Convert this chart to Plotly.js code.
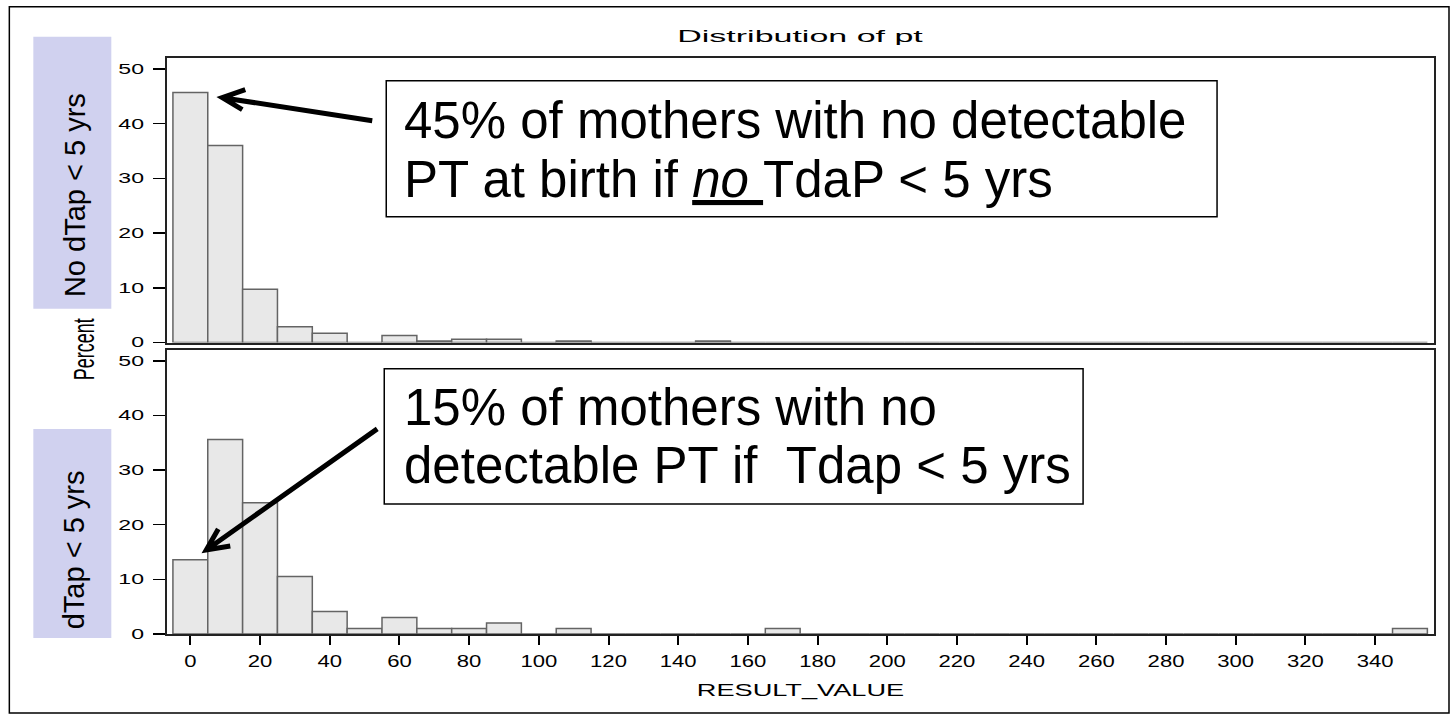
<!DOCTYPE html>
<html><head><meta charset="utf-8">
<script src="https://cdn.plot.ly/plotly-3.0.1.min.js"></script>
<style>body{margin:0;background:#fff}</style>
</head><body>
<div id="chart" style="width:1451px;height:717px"></div>
<script>
// ---- data (bin centers, bin width 10) ----
const binCenters = [0,10,20,30,40,50,60,70,80,90,100,110,120,130,140,150,160,170,180,190,200,210,220,230,240,250,260,270,280,290,300,310,320,330,340,350];
const noTdapPercent = [45.7,36.0,9.75,2.9,1.7,0,1.3,0.3,0.6,0.6,0,0.3,0,0,0,0.3,0,0,0,0,0,0,0,0,0,0,0,0,0,0,0,0,0,0,0,0];
const tdapPercent   = [13.6,35.6,24.0,10.5,4.1,1.0,3.0,1.0,1.0,2.0,0,1.0,0,0,0,0,0,1.0,0,0,0,0,0,0,0,0,0,0,0,0,0,0,0,0,0,1.0];
const xTickVals = [0,20,40,60,80,100,120,140,160,180,200,220,240,260,280,300,320,340];
const yTickVals = [0,10,20,30,40,50];
const chartTitle = 'Distribution of pt';
const xTitle = 'RESULT_VALUE';
const yTitle = 'Percent';
const topLabel = 'No dTap < 5 yrs';
const bottomLabel = 'dTap < 5 yrs';
const topNoteLines = ['45% of mothers with no detectable', 'PT at birth if <i><u>no\u00a0</u></i>TdaP < 5 yrs'];
const bottomNoteLines = ['15% of mothers with no', 'detectable PT if \u00a0Tdap < 5 yrs'];

// ---- geometry (pixels) ----
const W = 1451, H = 717, L = 166.7, R = 1434, T = 58.3, B = 634;
const px = x => (x - L) / (R - L);
const py = y => (B - y) / (B - T);

const barStyle = {color: 'rgb(232,232,232)', line: {color: 'rgb(100,100,100)', width: 1.5}};
const traces = [
  {type: 'bar', x: binCenters, y: noTdapPercent, width: 10, xaxis: 'x2', yaxis: 'y2', marker: barStyle, hoverinfo: 'x+y'},
  {type: 'bar', x: binCenters, y: tdapPercent, width: 10, xaxis: 'x', yaxis: 'y', marker: barStyle, hoverinfo: 'x+y'}
];

const tickFontY = {family: 'Liberation Sans, Arial, sans-serif', size: 14, color: '#000'};
const tickFontX = {family: 'Liberation Sans, Arial, sans-serif', size: 17, color: '#000'};
const frame = {showline: true, linecolor: '#222', linewidth: 2, mirror: true, showgrid: false, zeroline: false};
const xr = [-6.7, 356.9];
const yr = [0, 52];
const topDomainStart = (B - 342.7) / (B - T);
const botDomainEnd = (B - 350) / (B - T);

const noteFont = {family: 'Liberation Sans, Arial, sans-serif', size: 51, color: '#000'};
const labelFont = {family: 'Liberation Sans, Arial, sans-serif', size: 29, color: '#000'};

const annotations = [];
function noteLine(text, xPix, yPix) {
  annotations.push({text: text, xref: 'paper', yref: 'paper', x: px(xPix), y: py(yPix), xanchor: 'left', yanchor: 'middle', showarrow: false, font: noteFont});
}
noteLine(topNoteLines[0], 402, 121);
noteLine(topNoteLines[1], 402, 180);
noteLine(bottomNoteLines[0], 402, 408);
noteLine(bottomNoteLines[1], 402, 466);
annotations.push({text: topLabel, xref: 'paper', yref: 'paper', x: px(74), y: py(195), textangle: -90, xanchor: 'center', yanchor: 'middle', showarrow: false, font: labelFont});
annotations.push({text: bottomLabel, xref: 'paper', yref: 'paper', x: px(74), y: py(550), textangle: -90, xanchor: 'center', yanchor: 'middle', showarrow: false, font: labelFont});
annotations.push({text: yTitle, xref: 'paper', yref: 'paper', x: px(84), y: py(349), textangle: -90, xanchor: 'center', yanchor: 'middle', showarrow: false, font: {family: 'Liberation Sans, Arial, sans-serif', size: 18, color: '#000'}});

function rectPix(x0, y0, x1, y1, fill, line) {
  return {type: 'rect', xref: 'paper', yref: 'paper', x0: px(x0), x1: px(x1), y0: py(y1), y1: py(y0), fillcolor: fill, line: line, layer: 'above'};
}
function arrowPath(tail, tip, arm1, arm2) {
  const p = a => px(a[0]) + ',' + py(a[1]);
  return {type: 'path', xref: 'paper', yref: 'paper', path: 'M' + p(tail) + ' L' + p(tip) + ' M' + p(arm1) + ' L' + p(tip) + ' L' + p(arm2), line: {color: '#000', width: 5}, layer: 'above'};
}
const shapes = [
  rectPix(9, 7, 1449, 713, 'rgba(0,0,0,0)', {color: '#000', width: 1.5}),
  rectPix(33, 37, 111, 309, 'rgb(208,209,239)', {width: 0}),
  rectPix(33, 429, 111, 638, 'rgb(208,209,239)', {width: 0}),
  rectPix(386, 81, 1217, 217, '#fff', {color: '#000', width: 1.5}),
  rectPix(384, 369, 1083, 504, '#fff', {color: '#000', width: 1.5}),
  arrowPath([372, 121], [222, 98], [245, 90], [242, 110]),
  arrowPath([377, 429], [206, 550], [218, 529], [230, 546])
];

const layout = {
  width: W, height: H,
  margin: {l: L, r: W - R, t: T, b: H - B, pad: 0},
  paper_bgcolor: '#fff', plot_bgcolor: '#fff',
  showlegend: false, bargap: 0,
  title: {text: chartTitle, x: px(800), xref: 'paper', xanchor: 'center', y: 1 - 36 / H, yref: 'container', yanchor: 'middle', font: {family: 'Liberation Sans, Arial, sans-serif', size: 17, color: '#000'}},
  xaxis: Object.assign({anchor: 'y', domain: [0, 1], range: xr, tickvals: xTickVals, ticks: 'outside', ticklen: 9, tickwidth: 2, tickcolor: '#000', tickfont: tickFontX, ticklabelstandoff: 2,
    title: {text: xTitle, font: {family: 'Liberation Sans, Arial, sans-serif', size: 16, color: '#000'}, standoff: 14}}, frame),
  xaxis2: Object.assign({anchor: 'y2', domain: [0, 1], range: xr, showticklabels: false, ticks: ''}, frame),
  yaxis: Object.assign({anchor: 'x', domain: [0, botDomainEnd], range: yr, tickvals: yTickVals, ticks: 'outside', ticklen: 12, tickwidth: 1.5, tickcolor: '#000', tickfont: tickFontY, ticklabelstandoff: 6}, frame),
  yaxis2: Object.assign({anchor: 'x2', domain: [topDomainStart, 1], range: yr, tickvals: yTickVals, ticks: 'outside', ticklen: 12, tickwidth: 1.5, tickcolor: '#000', tickfont: tickFontY, ticklabelstandoff: 6}, frame),
  annotations: annotations,
  shapes: shapes
};

// The source chart was stretched horizontally; widen its own texts to match.
function stretchScreenX(el, s, anchor) {
  const svg = el.ownerSVGElement;
  const bb = el.getBoundingClientRect();
  const ax = anchor === 'start' ? bb.left : anchor === 'end' ? bb.right : (bb.left + bb.right) / 2;
  const P = el.parentNode.getScreenCTM();
  const M = svg.createSVGMatrix().translate(ax, 0).scaleNonUniform(s, 1).translate(-ax, 0);
  const X = P.inverse().multiply(M).multiply(P);
  const t = el.getAttribute('transform') || '';
  el.setAttribute('transform', 'matrix(' + [X.a, X.b, X.c, X.d, X.e, X.f].join(',') + ') ' + t);
}

Plotly.newPlot('chart', traces, layout, {staticPlot: true, responsive: false}).then(function (gd) {
  gd.querySelectorAll('.xtick text').forEach(el => stretchScreenX(el, 1.3, 'middle'));
  gd.querySelectorAll('.ytick text, .y2tick text').forEach(el => stretchScreenX(el, 1.65, 'end'));
  gd.querySelectorAll('.gtitle').forEach(el => stretchScreenX(el, 2.0, 'middle'));
  gd.querySelectorAll('.xtitle').forEach(el => stretchScreenX(el, 1.7, 'middle'));
  gd.querySelectorAll('.annotation-text').forEach(el => { if (el.textContent === yTitle) stretchScreenX(el, 1.6, 'middle'); });
});
</script>
</body></html>
